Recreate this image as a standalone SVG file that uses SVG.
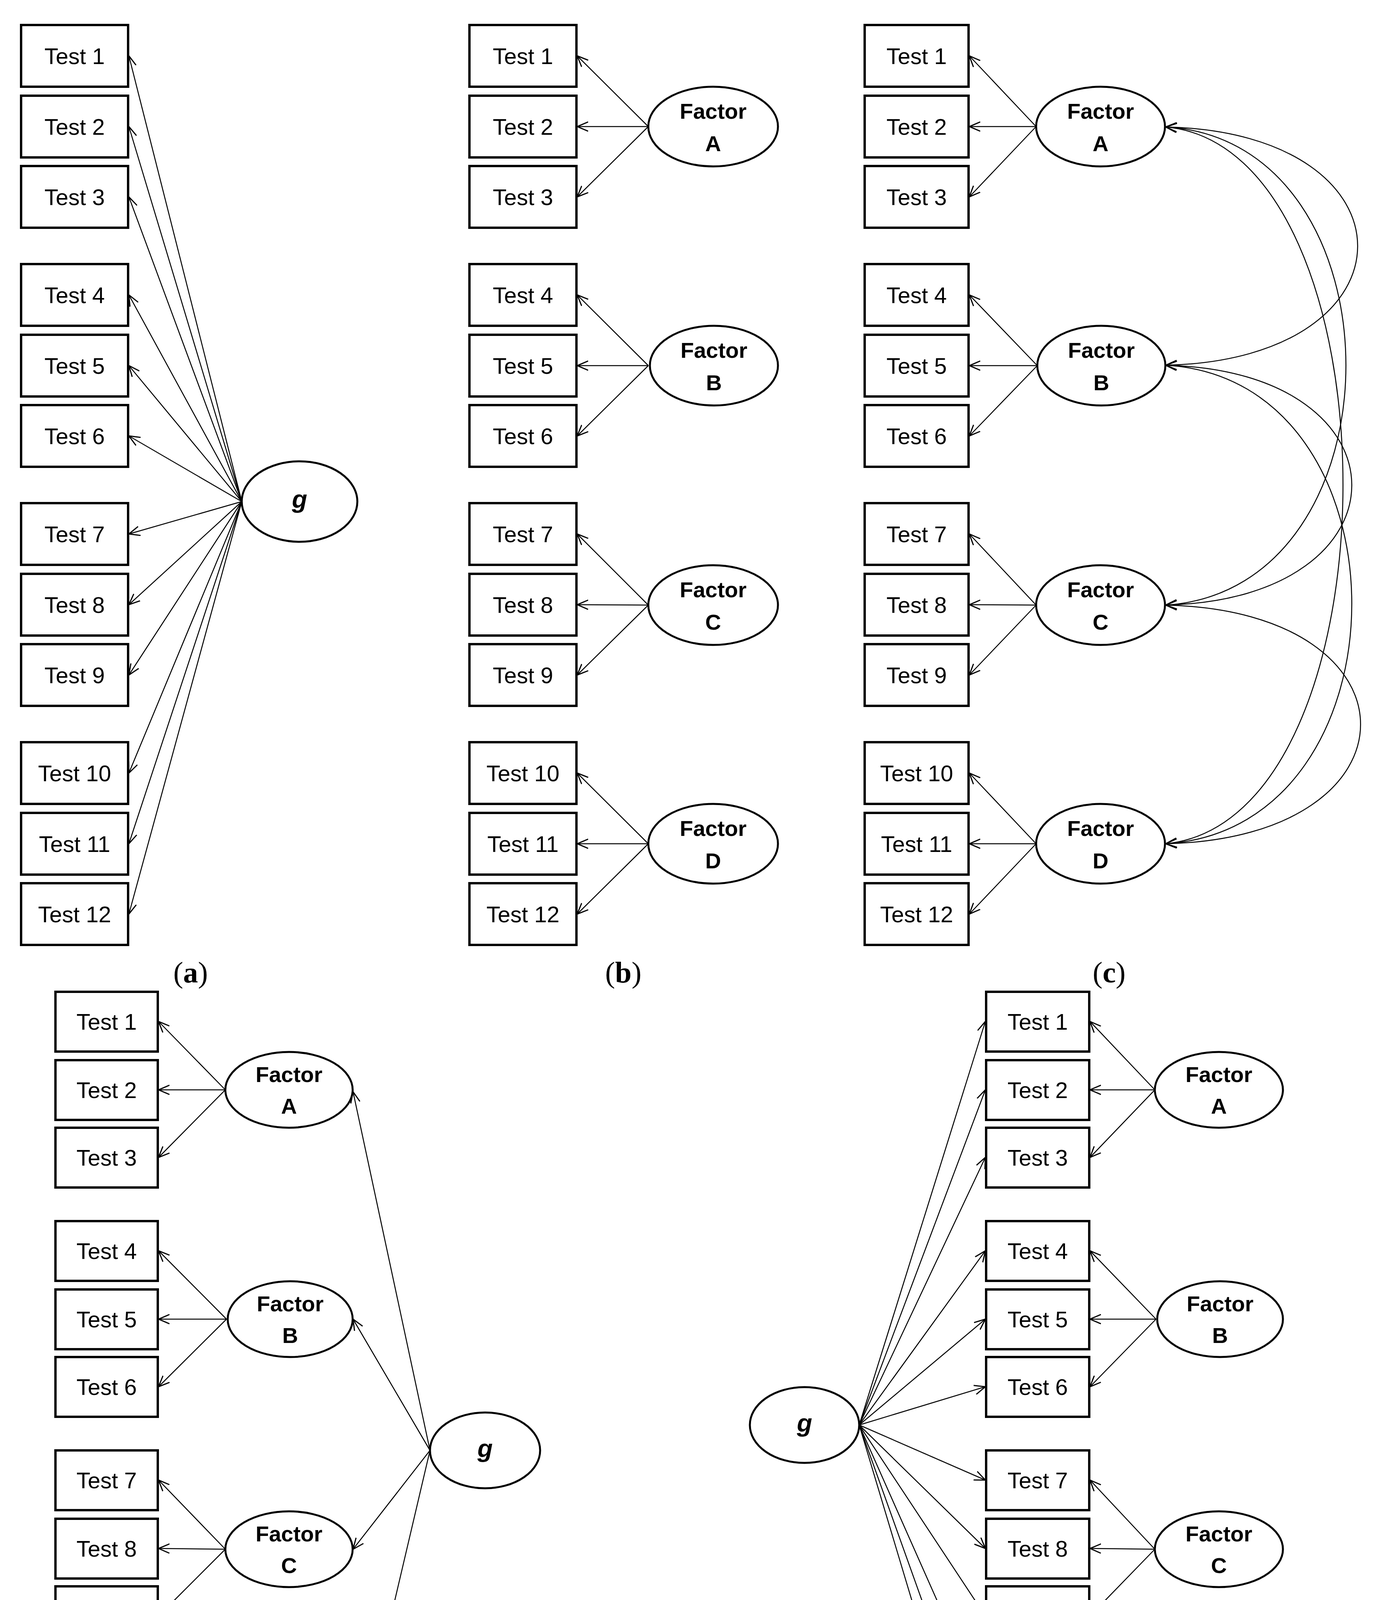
<svg xmlns="http://www.w3.org/2000/svg" width="3554" height="4946" viewBox="0 0 3554 4946">
<style>
.b{fill:#fff;stroke:#000;stroke-width:6}
.e{fill:#fff;stroke:#000;stroke-width:5}
.t{font-family:"Liberation Sans",Arial,sans-serif;font-size:58px;text-anchor:middle}
.f{font-family:"Liberation Sans",Arial,sans-serif;font-size:56px;font-weight:bold;text-anchor:middle}
.g{font-family:"Liberation Sans",Arial,sans-serif;font-size:64px;font-weight:bold;font-style:italic;text-anchor:middle}
.l{font-family:"Liberation Serif","Times New Roman",serif;font-size:76px;text-anchor:middle}
.c line,.c path{stroke:#000;stroke-width:2.5;fill:none;marker-end:url(#ah)}
.c path{marker-start:url(#ah)}
</style>
<defs>
<marker id="ah" markerUnits="userSpaceOnUse" viewBox="0 0 30 26" refX="28" refY="13" markerWidth="30" markerHeight="26" orient="auto-start-reverse"><path d="M0,1 L28,13 L0,25" fill="none" stroke="#000" stroke-width="3"/></marker>
<g id="bx1"><rect class="b" x="0" y="0" width="274" height="158"/></g>
</defs>
<rect width="3554" height="4946" fill="#fff"/>

<!-- connectors -->
<g class="c" id="connectors">
<!-- (a) -->
<line x1="619" y1="1284" x2="330" y2="143"/><line x1="619" y1="1284" x2="330" y2="324"/><line x1="619" y1="1284" x2="330" y2="504"/>
<line x1="619" y1="1284" x2="330" y2="755"/><line x1="619" y1="1284" x2="330" y2="936"/><line x1="619" y1="1284" x2="330" y2="1116"/>
<line x1="619" y1="1284" x2="330" y2="1367"/><line x1="619" y1="1284" x2="330" y2="1548"/><line x1="619" y1="1284" x2="330" y2="1728"/>
<line x1="619" y1="1284" x2="330" y2="1979"/><line x1="619" y1="1284" x2="330" y2="2160"/><line x1="619" y1="1284" x2="330" y2="2340"/>
<!-- (b) -->
<line x1="1660" y1="324" x2="1478" y2="143"/><line x1="1660" y1="324" x2="1478" y2="324"/><line x1="1660" y1="324" x2="1478" y2="504"/>
<line x1="1660" y1="936" x2="1478" y2="755"/><line x1="1660" y1="936" x2="1478" y2="936"/><line x1="1660" y1="936" x2="1478" y2="1116"/>
<line x1="1660" y1="1549" x2="1478" y2="1367"/><line x1="1660" y1="1549" x2="1478" y2="1548"/><line x1="1660" y1="1549" x2="1478" y2="1728"/>
<line x1="1660" y1="2160" x2="1478" y2="1979"/><line x1="1660" y1="2160" x2="1478" y2="2160"/><line x1="1660" y1="2160" x2="1478" y2="2340"/>
<!-- (c) -->
<line x1="2653" y1="324" x2="2482" y2="143"/><line x1="2653" y1="324" x2="2482" y2="324"/><line x1="2653" y1="324" x2="2482" y2="504"/>
<line x1="2656" y1="936" x2="2482" y2="755"/><line x1="2656" y1="936" x2="2482" y2="936"/><line x1="2656" y1="936" x2="2482" y2="1116"/>
<line x1="2653" y1="1549" x2="2482" y2="1367"/><line x1="2653" y1="1549" x2="2482" y2="1548"/><line x1="2653" y1="1549" x2="2482" y2="1728"/>
<line x1="2653" y1="2160" x2="2482" y2="1979"/><line x1="2653" y1="2160" x2="2482" y2="2160"/><line x1="2653" y1="2160" x2="2482" y2="2340"/>
<path d="M2985,325 C3640,340 3640,920 2985,935"/>
<path d="M2985,935 C3620,950 3620,1534 2985,1549"/>
<path d="M2985,1549 C3650,1564 3650,2145 2985,2160"/>
<path d="M2985,325 C3600,360 3600,1510 2985,1549"/>
<path d="M2985,935 C3620,970 3620,2120 2985,2160"/>
<path d="M2985,325 C3590,380 3590,2100 2985,2160"/>
<!-- (d) -->
<line x1="577" y1="2790" x2="406" y2="2615"/><line x1="577" y1="2790" x2="406" y2="2790"/><line x1="577" y1="2790" x2="406" y2="2963"/>
<line x1="580" y1="3377" x2="406" y2="3202"/><line x1="580" y1="3377" x2="406" y2="3377"/><line x1="580" y1="3377" x2="406" y2="3550"/>
<line x1="577" y1="3966" x2="406" y2="3789"/><line x1="577" y1="3966" x2="406" y2="3964"/><line x1="577" y1="3966" x2="406" y2="4137"/>
<line x1="577" y1="4555" x2="406" y2="4376"/><line x1="577" y1="4555" x2="406" y2="4551"/><line x1="577" y1="4555" x2="406" y2="4724"/>
<line x1="1101" y1="3713" x2="904" y2="2795"/><line x1="1101" y1="3713" x2="904" y2="3377"/><line x1="1101" y1="3713" x2="904" y2="3966"/><line x1="1101" y1="3713" x2="904" y2="4552"/>
<!-- (e) -->
<line x1="2957" y1="2790" x2="2791" y2="2615"/><line x1="2957" y1="2790" x2="2791" y2="2790"/><line x1="2957" y1="2790" x2="2791" y2="2963"/>
<line x1="2960" y1="3377" x2="2791" y2="3202"/><line x1="2960" y1="3377" x2="2791" y2="3377"/><line x1="2960" y1="3377" x2="2791" y2="3550"/>
<line x1="2957" y1="3966" x2="2791" y2="3789"/><line x1="2957" y1="3966" x2="2791" y2="3964"/><line x1="2957" y1="3966" x2="2791" y2="4137"/>
<line x1="2957" y1="4555" x2="2791" y2="4376"/><line x1="2957" y1="4555" x2="2791" y2="4551"/><line x1="2957" y1="4555" x2="2791" y2="4724"/>
<line x1="2200" y1="3648" x2="2523" y2="2615"/><line x1="2200" y1="3648" x2="2523" y2="2790"/><line x1="2200" y1="3648" x2="2523" y2="2963"/>
<line x1="2200" y1="3648" x2="2523" y2="3202"/><line x1="2200" y1="3648" x2="2523" y2="3377"/><line x1="2200" y1="3648" x2="2523" y2="3550"/>
<line x1="2200" y1="3648" x2="2523" y2="3789"/><line x1="2200" y1="3648" x2="2523" y2="3964"/><line x1="2200" y1="3648" x2="2523" y2="4137"/>
<line x1="2200" y1="3648" x2="2523" y2="4376"/><line x1="2200" y1="3648" x2="2523" y2="4551"/><line x1="2200" y1="3648" x2="2523" y2="4724"/>
</g>

<!-- (a) -->
<g id="a-t1"><rect class="b" x="54" y="64" width="274" height="158"/><text class="t" x="191" y="164">Test 1</text></g>
<g id="a-t2"><rect class="b" x="54" y="245" width="274" height="158"/><text class="t" x="191" y="345">Test 2</text></g>
<g id="a-t3"><rect class="b" x="54" y="425" width="274" height="158"/><text class="t" x="191" y="525">Test 3</text></g>
<g id="a-t4"><rect class="b" x="54" y="676" width="274" height="158"/><text class="t" x="191" y="776">Test 4</text></g>
<g id="a-t5"><rect class="b" x="54" y="857" width="274" height="158"/><text class="t" x="191" y="957">Test 5</text></g>
<g id="a-t6"><rect class="b" x="54" y="1037" width="274" height="158"/><text class="t" x="191" y="1137">Test 6</text></g>
<g id="a-t7"><rect class="b" x="54" y="1288" width="274" height="158"/><text class="t" x="191" y="1388">Test 7</text></g>
<g id="a-t8"><rect class="b" x="54" y="1469" width="274" height="158"/><text class="t" x="191" y="1569">Test 8</text></g>
<g id="a-t9"><rect class="b" x="54" y="1649" width="274" height="158"/><text class="t" x="191" y="1749">Test 9</text></g>
<g id="a-t10"><rect class="b" x="54" y="1900" width="274" height="158"/><text class="t" x="191" y="2000">Test 10</text></g>
<g id="a-t11"><rect class="b" x="54" y="2081" width="274" height="158"/><text class="t" x="191" y="2181">Test 11</text></g>
<g id="a-t12"><rect class="b" x="54" y="2261" width="274" height="158"/><text class="t" x="191" y="2361">Test 12</text></g>
<g id="a-g"><ellipse class="e" cx="767" cy="1284" rx="148" ry="103"/><text class="g" x="767" y="1300">g</text></g>
<text class="l" x="488" y="2515">(<tspan font-weight="bold">a</tspan>)</text>

<!-- (b) -->
<g id="b-t1"><rect class="b" x="1202" y="64" width="274" height="158"/><text class="t" x="1339" y="164">Test 1</text></g>
<g id="b-t2"><rect class="b" x="1202" y="245" width="274" height="158"/><text class="t" x="1339" y="345">Test 2</text></g>
<g id="b-t3"><rect class="b" x="1202" y="425" width="274" height="158"/><text class="t" x="1339" y="525">Test 3</text></g>
<g id="b-t4"><rect class="b" x="1202" y="676" width="274" height="158"/><text class="t" x="1339" y="776">Test 4</text></g>
<g id="b-t5"><rect class="b" x="1202" y="857" width="274" height="158"/><text class="t" x="1339" y="957">Test 5</text></g>
<g id="b-t6"><rect class="b" x="1202" y="1037" width="274" height="158"/><text class="t" x="1339" y="1137">Test 6</text></g>
<g id="b-t7"><rect class="b" x="1202" y="1288" width="274" height="158"/><text class="t" x="1339" y="1388">Test 7</text></g>
<g id="b-t8"><rect class="b" x="1202" y="1469" width="274" height="158"/><text class="t" x="1339" y="1569">Test 8</text></g>
<g id="b-t9"><rect class="b" x="1202" y="1649" width="274" height="158"/><text class="t" x="1339" y="1749">Test 9</text></g>
<g id="b-t10"><rect class="b" x="1202" y="1900" width="274" height="158"/><text class="t" x="1339" y="2000">Test 10</text></g>
<g id="b-t11"><rect class="b" x="1202" y="2081" width="274" height="158"/><text class="t" x="1339" y="2181">Test 11</text></g>
<g id="b-t12"><rect class="b" x="1202" y="2261" width="274" height="158"/><text class="t" x="1339" y="2361">Test 12</text></g>
<g id="b-fA"><ellipse class="e" cx="1826" cy="324" rx="166" ry="102"/><text class="f" x="1826" y="304">Factor</text><text class="f" x="1826" y="387">A</text></g>
<g id="b-fB"><ellipse class="e" cx="1828" cy="936" rx="164" ry="102"/><text class="f" x="1828" y="916">Factor</text><text class="f" x="1828" y="999">B</text></g>
<g id="b-fC"><ellipse class="e" cx="1826" cy="1549" rx="166" ry="102"/><text class="f" x="1826" y="1529">Factor</text><text class="f" x="1826" y="1612">C</text></g>
<g id="b-fD"><ellipse class="e" cx="1826" cy="2160" rx="166" ry="102"/><text class="f" x="1826" y="2140">Factor</text><text class="f" x="1826" y="2223">D</text></g>
<text class="l" x="1596" y="2515">(<tspan font-weight="bold">b</tspan>)</text>

<!-- (c) -->
<g id="c-t1"><rect class="b" x="2214" y="64" width="266" height="158"/><text class="t" x="2347" y="164">Test 1</text></g>
<g id="c-t2"><rect class="b" x="2214" y="245" width="266" height="158"/><text class="t" x="2347" y="345">Test 2</text></g>
<g id="c-t3"><rect class="b" x="2214" y="425" width="266" height="158"/><text class="t" x="2347" y="525">Test 3</text></g>
<g id="c-t4"><rect class="b" x="2214" y="676" width="266" height="158"/><text class="t" x="2347" y="776">Test 4</text></g>
<g id="c-t5"><rect class="b" x="2214" y="857" width="266" height="158"/><text class="t" x="2347" y="957">Test 5</text></g>
<g id="c-t6"><rect class="b" x="2214" y="1037" width="266" height="158"/><text class="t" x="2347" y="1137">Test 6</text></g>
<g id="c-t7"><rect class="b" x="2214" y="1288" width="266" height="158"/><text class="t" x="2347" y="1388">Test 7</text></g>
<g id="c-t8"><rect class="b" x="2214" y="1469" width="266" height="158"/><text class="t" x="2347" y="1569">Test 8</text></g>
<g id="c-t9"><rect class="b" x="2214" y="1649" width="266" height="158"/><text class="t" x="2347" y="1749">Test 9</text></g>
<g id="c-t10"><rect class="b" x="2214" y="1900" width="266" height="158"/><text class="t" x="2347" y="2000">Test 10</text></g>
<g id="c-t11"><rect class="b" x="2214" y="2081" width="266" height="158"/><text class="t" x="2347" y="2181">Test 11</text></g>
<g id="c-t12"><rect class="b" x="2214" y="2261" width="266" height="158"/><text class="t" x="2347" y="2361">Test 12</text></g>
<g id="c-fA"><ellipse class="e" cx="2818" cy="324" rx="165" ry="102"/><text class="f" x="2818" y="304">Factor</text><text class="f" x="2818" y="387">A</text></g>
<g id="c-fB"><ellipse class="e" cx="2820" cy="936" rx="164" ry="102"/><text class="f" x="2820" y="916">Factor</text><text class="f" x="2820" y="999">B</text></g>
<g id="c-fC"><ellipse class="e" cx="2818" cy="1549" rx="165" ry="102"/><text class="f" x="2818" y="1529">Factor</text><text class="f" x="2818" y="1612">C</text></g>
<g id="c-fD"><ellipse class="e" cx="2818" cy="2160" rx="165" ry="102"/><text class="f" x="2818" y="2140">Factor</text><text class="f" x="2818" y="2223">D</text></g>
<text class="l" x="2840" y="2515">(<tspan font-weight="bold">c</tspan>)</text>

<!-- (d) -->
<g id="d-t1"><rect class="b" x="142" y="2539" width="262" height="153"/><text class="t" x="273" y="2636">Test 1</text></g>
<g id="d-t2"><rect class="b" x="142" y="2714" width="262" height="153"/><text class="t" x="273" y="2811">Test 2</text></g>
<g id="d-t3"><rect class="b" x="142" y="2887" width="262" height="153"/><text class="t" x="273" y="2984">Test 3</text></g>
<g id="d-t4"><rect class="b" x="142" y="3126" width="262" height="153"/><text class="t" x="273" y="3223">Test 4</text></g>
<g id="d-t5"><rect class="b" x="142" y="3301" width="262" height="153"/><text class="t" x="273" y="3398">Test 5</text></g>
<g id="d-t6"><rect class="b" x="142" y="3474" width="262" height="153"/><text class="t" x="273" y="3571">Test 6</text></g>
<g id="d-t7"><rect class="b" x="142" y="3713" width="262" height="153"/><text class="t" x="273" y="3810">Test 7</text></g>
<g id="d-t8"><rect class="b" x="142" y="3888" width="262" height="153"/><text class="t" x="273" y="3985">Test 8</text></g>
<g id="d-t9"><rect class="b" x="142" y="4061" width="262" height="153"/><text class="t" x="273" y="4158">Test 9</text></g>
<g id="d-t10"><rect class="b" x="142" y="4300" width="262" height="153"/><text class="t" x="273" y="4397">Test 10</text></g>
<g id="d-t11"><rect class="b" x="142" y="4475" width="262" height="153"/><text class="t" x="273" y="4572">Test 11</text></g>
<g id="d-t12"><rect class="b" x="142" y="4648" width="262" height="153"/><text class="t" x="273" y="4745">Test 12</text></g>
<g id="d-fA"><ellipse class="e" cx="740" cy="2790" rx="163" ry="97"/><text class="f" x="740" y="2770">Factor</text><text class="f" x="740" y="2851">A</text></g>
<g id="d-fB"><ellipse class="e" cx="743" cy="3377" rx="160" ry="97"/><text class="f" x="743" y="3357">Factor</text><text class="f" x="743" y="3438">B</text></g>
<g id="d-fC"><ellipse class="e" cx="740" cy="3966" rx="163" ry="97"/><text class="f" x="740" y="3946">Factor</text><text class="f" x="740" y="4027">C</text></g>
<g id="d-fD"><ellipse class="e" cx="740" cy="4555" rx="163" ry="97"/><text class="f" x="740" y="4535">Factor</text><text class="f" x="740" y="4616">D</text></g>
<g id="d-g"><ellipse class="e" cx="1242" cy="3713" rx="141" ry="97"/><text class="g" x="1242" y="3730">g</text></g>
<text class="l" x="763" y="4895">(<tspan font-weight="bold">d</tspan>)</text>

<!-- (e) -->
<g id="e-t1"><rect class="b" x="2525" y="2539" width="264" height="153"/><text class="t" x="2657" y="2636">Test 1</text></g>
<g id="e-t2"><rect class="b" x="2525" y="2714" width="264" height="153"/><text class="t" x="2657" y="2811">Test 2</text></g>
<g id="e-t3"><rect class="b" x="2525" y="2887" width="264" height="153"/><text class="t" x="2657" y="2984">Test 3</text></g>
<g id="e-t4"><rect class="b" x="2525" y="3126" width="264" height="153"/><text class="t" x="2657" y="3223">Test 4</text></g>
<g id="e-t5"><rect class="b" x="2525" y="3301" width="264" height="153"/><text class="t" x="2657" y="3398">Test 5</text></g>
<g id="e-t6"><rect class="b" x="2525" y="3474" width="264" height="153"/><text class="t" x="2657" y="3571">Test 6</text></g>
<g id="e-t7"><rect class="b" x="2525" y="3713" width="264" height="153"/><text class="t" x="2657" y="3810">Test 7</text></g>
<g id="e-t8"><rect class="b" x="2525" y="3888" width="264" height="153"/><text class="t" x="2657" y="3985">Test 8</text></g>
<g id="e-t9"><rect class="b" x="2525" y="4061" width="264" height="153"/><text class="t" x="2657" y="4158">Test 9</text></g>
<g id="e-t10"><rect class="b" x="2525" y="4300" width="264" height="153"/><text class="t" x="2657" y="4397">Test 10</text></g>
<g id="e-t11"><rect class="b" x="2525" y="4475" width="264" height="153"/><text class="t" x="2657" y="4572">Test 11</text></g>
<g id="e-t12"><rect class="b" x="2525" y="4648" width="264" height="153"/><text class="t" x="2657" y="4745">Test 12</text></g>
<g id="e-fA"><ellipse class="e" cx="3121" cy="2790" rx="164" ry="97"/><text class="f" x="3121" y="2770">Factor</text><text class="f" x="3121" y="2851">A</text></g>
<g id="e-fB"><ellipse class="e" cx="3124" cy="3377" rx="161" ry="97"/><text class="f" x="3124" y="3357">Factor</text><text class="f" x="3124" y="3438">B</text></g>
<g id="e-fC"><ellipse class="e" cx="3121" cy="3966" rx="164" ry="97"/><text class="f" x="3121" y="3946">Factor</text><text class="f" x="3121" y="4027">C</text></g>
<g id="e-fD"><ellipse class="e" cx="3121" cy="4555" rx="164" ry="97"/><text class="f" x="3121" y="4535">Factor</text><text class="f" x="3121" y="4616">D</text></g>
<g id="e-g"><ellipse class="e" cx="2060" cy="3648" rx="140" ry="97"/><text class="g" x="2060" y="3665">g</text></g>
<text class="l" x="2605" y="4895">(<tspan font-weight="bold">e</tspan>)</text>
</svg>
